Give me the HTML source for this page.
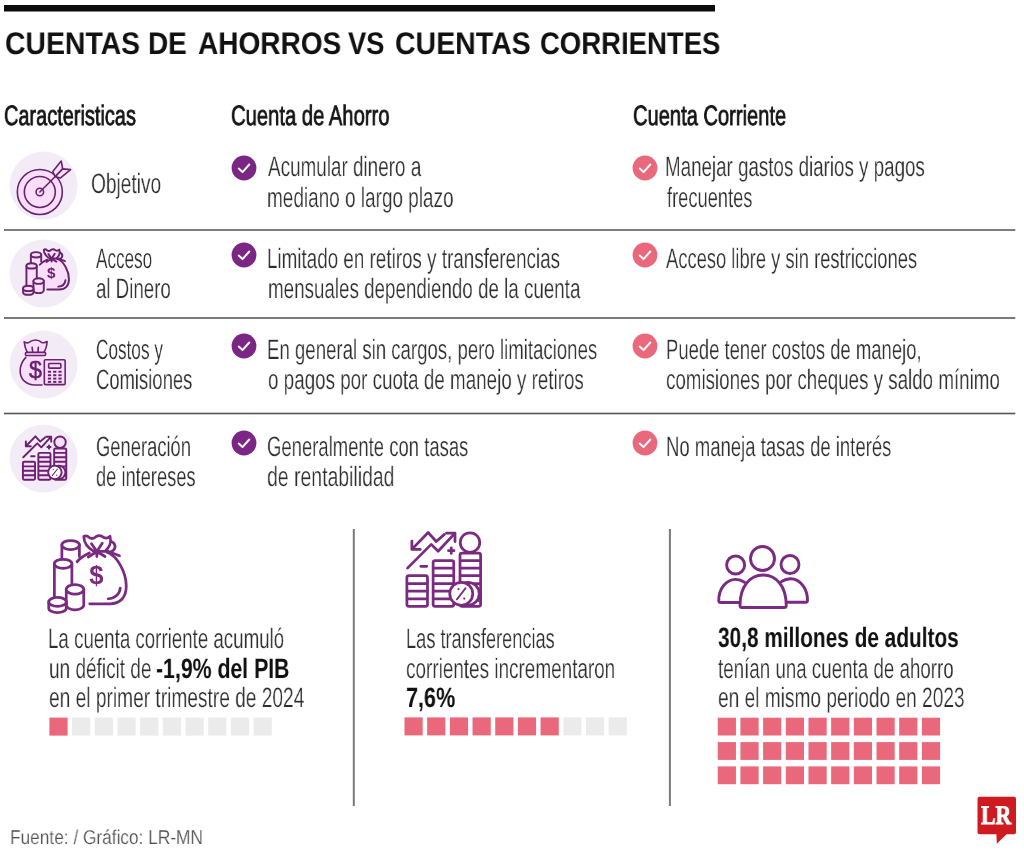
<!DOCTYPE html>
<html lang="es"><head><meta charset="utf-8"><title>Cuentas de ahorros vs cuentas corrientes</title>
<style>
html,body{margin:0;padding:0;background:#fff}
body{width:1024px;height:853px;position:relative;overflow:hidden;font-family:"Liberation Sans",sans-serif}
.a{position:absolute;display:block}
svg.a{will-change:transform}
.t{will-change:transform;position:absolute;display:block;white-space:nowrap;line-height:1;transform-origin:0 0;text-rendering:geometricPrecision;font-family:"Liberation Sans",sans-serif}
</style></head><body>

<svg class="a" style="left:0;top:0" width="1024" height="853" viewBox="0 0 1024 853"><rect x="4" y="5" width="711" height="6.5" fill="#0c0c0c"/>
<circle cx="43.6" cy="185.5" r="34" fill="#f3ecf6"/>
<circle cx="43.6" cy="273.5" r="34" fill="#f3ecf6"/>
<circle cx="43.6" cy="364.5" r="34" fill="#f3ecf6"/>
<circle cx="43.6" cy="458.5" r="34" fill="#f3ecf6"/>
<rect x="4" y="229" width="1011.3" height="2" fill="#7e7e7e"/>
<rect x="4" y="317" width="1011.3" height="2" fill="#7a7a7a"/>
<rect x="4" y="412.7" width="1011.3" height="1.6" fill="#555"/>
<rect x="352.8" y="529" width="2" height="277" fill="#7a7a7a"/>
<rect x="668.9" y="529" width="2" height="277" fill="#7a7a7a"/>
<rect x="49.40" y="717.60" width="18.2" height="18" fill="#e9687b"/>
<rect x="72.08" y="717.60" width="18.2" height="18" fill="#ebebeb"/>
<rect x="94.76" y="717.60" width="18.2" height="18" fill="#ebebeb"/>
<rect x="117.44" y="717.60" width="18.2" height="18" fill="#ebebeb"/>
<rect x="140.12" y="717.60" width="18.2" height="18" fill="#ebebeb"/>
<rect x="162.80" y="717.60" width="18.2" height="18" fill="#ebebeb"/>
<rect x="185.48" y="717.60" width="18.2" height="18" fill="#ebebeb"/>
<rect x="208.16" y="717.60" width="18.2" height="18" fill="#ebebeb"/>
<rect x="230.84" y="717.60" width="18.2" height="18" fill="#ebebeb"/>
<rect x="253.52" y="717.60" width="18.2" height="18" fill="#ebebeb"/>
<rect x="404.50" y="717.40" width="18.2" height="18" fill="#e9687b"/>
<rect x="427.18" y="717.40" width="18.2" height="18" fill="#e9687b"/>
<rect x="449.86" y="717.40" width="18.2" height="18" fill="#e9687b"/>
<rect x="472.54" y="717.40" width="18.2" height="18" fill="#e9687b"/>
<rect x="495.22" y="717.40" width="18.2" height="18" fill="#e9687b"/>
<rect x="517.90" y="717.40" width="18.2" height="18" fill="#e9687b"/>
<rect x="540.58" y="717.40" width="18.2" height="18" fill="#e9687b"/>
<rect x="563.26" y="717.40" width="18.2" height="18" fill="#ebebeb"/>
<rect x="585.94" y="717.40" width="18.2" height="18" fill="#ebebeb"/>
<rect x="608.62" y="717.40" width="18.2" height="18" fill="#ebebeb"/>
<rect x="717.75" y="717.70" width="18.2" height="17.8" fill="#e9687b"/>
<rect x="740.43" y="717.70" width="18.2" height="17.8" fill="#e9687b"/>
<rect x="763.11" y="717.70" width="18.2" height="17.8" fill="#e9687b"/>
<rect x="785.79" y="717.70" width="18.2" height="17.8" fill="#e9687b"/>
<rect x="808.47" y="717.70" width="18.2" height="17.8" fill="#e9687b"/>
<rect x="831.15" y="717.70" width="18.2" height="17.8" fill="#e9687b"/>
<rect x="853.83" y="717.70" width="18.2" height="17.8" fill="#e9687b"/>
<rect x="876.51" y="717.70" width="18.2" height="17.8" fill="#e9687b"/>
<rect x="899.19" y="717.70" width="18.2" height="17.8" fill="#e9687b"/>
<rect x="921.87" y="717.70" width="18.2" height="17.8" fill="#e9687b"/>
<rect x="717.75" y="742.10" width="18.2" height="17.8" fill="#e9687b"/>
<rect x="740.43" y="742.10" width="18.2" height="17.8" fill="#e9687b"/>
<rect x="763.11" y="742.10" width="18.2" height="17.8" fill="#e9687b"/>
<rect x="785.79" y="742.10" width="18.2" height="17.8" fill="#e9687b"/>
<rect x="808.47" y="742.10" width="18.2" height="17.8" fill="#e9687b"/>
<rect x="831.15" y="742.10" width="18.2" height="17.8" fill="#e9687b"/>
<rect x="853.83" y="742.10" width="18.2" height="17.8" fill="#e9687b"/>
<rect x="876.51" y="742.10" width="18.2" height="17.8" fill="#e9687b"/>
<rect x="899.19" y="742.10" width="18.2" height="17.8" fill="#e9687b"/>
<rect x="921.87" y="742.10" width="18.2" height="17.8" fill="#e9687b"/>
<rect x="717.75" y="766.40" width="18.2" height="17.8" fill="#e9687b"/>
<rect x="740.43" y="766.40" width="18.2" height="17.8" fill="#e9687b"/>
<rect x="763.11" y="766.40" width="18.2" height="17.8" fill="#e9687b"/>
<rect x="785.79" y="766.40" width="18.2" height="17.8" fill="#e9687b"/>
<rect x="808.47" y="766.40" width="18.2" height="17.8" fill="#e9687b"/>
<rect x="831.15" y="766.40" width="18.2" height="17.8" fill="#e9687b"/>
<rect x="853.83" y="766.40" width="18.2" height="17.8" fill="#e9687b"/>
<rect x="876.51" y="766.40" width="18.2" height="17.8" fill="#e9687b"/>
<rect x="899.19" y="766.40" width="18.2" height="17.8" fill="#e9687b"/>
<rect x="921.87" y="766.40" width="18.2" height="17.8" fill="#e9687b"/></svg>
<svg class="a" style="left:30px;top:520px" width="128" height="106" viewBox="0 0 1024 848">
<g fill="#fff" stroke="#7a2a80" stroke-width="22" stroke-linecap="round" stroke-linejoin="round">
  <path d="M255,200 L255,318 L395,300 L395,200 Z" stroke="none"/>
  <path d="M255,200 L255,312 M395,200 L395,292" fill="none"/>
  <ellipse cx="325" cy="200" rx="70" ry="36"/>
  <path d="M475,264 C430,285 400,305 376,334 L376,560 L475,670 L640,670 C720,670 770,620 770,530 C770,420 700,285 612,256 Z" stroke="none"/>
  <path d="M376,334 C400,305 430,285 475,264 M612,256 C700,285 770,420 770,530 C770,620 720,670 640,670 L478,670" fill="none"/>
  <path d="M722,545 C718,592 680,626 626,630" fill="none"/>
  <path d="M430,132 Q452,118 474,140 Q500,160 530,132 Q560,114 590,140 Q618,152 640,130 C655,180 630,225 600,250 L510,250 C465,225 432,190 430,132 Z"/>
  <path d="M650,172 C692,192 692,240 642,256" fill="none"/>
  <path d="M535,252 L492,190 M535,252 L578,186 M535,252 L535,292 M535,252 L466,296 M535,252 L600,292 M612,246 L716,286" fill="none"/>
  <path d="M195,350 L195,612 L335,612 L335,350 Z" stroke="none"/>
  <path d="M195,350 L195,612 M335,350 L335,520" fill="none"/>
  <ellipse cx="265" cy="350" rx="70" ry="36"/>
  <path d="M290,555 L290,680 A70,38 0 0 0 430,680 L430,555 Z"/>
  <ellipse cx="360" cy="555" rx="70" ry="38"/>
  <path d="M150,655 L150,705 A70,36 0 0 0 290,705 L290,655 Z"/>
  <ellipse cx="220" cy="655" rx="70" ry="36"/>
</g>
<text x="530" y="512" font-family="Liberation Sans, sans-serif" font-weight="bold" font-size="205" text-anchor="middle" fill="#7a2a80">$</text>
</svg>
<svg class="a" style="left:390px;top:520px" width="128" height="106" viewBox="0 0 1024 848">
<g fill="#fff" stroke="#7a2a80" stroke-width="22" stroke-linecap="round" stroke-linejoin="round">
  <rect x="135" y="445" width="165" height="245" rx="16"/>
  <path d="M135,508 L300,508 M135,568 L300,568 M135,630 L300,630 " fill="none" stroke-linecap="butt"/>
  <rect x="345" y="325" width="165" height="365" rx="16"/>
  <path d="M345,385 L510,385 M345,445 L510,445 M345,508 L510,508 M345,568 L510,568 M345,630 L510,630 " fill="none" stroke-linecap="butt"/>
  <rect x="560" y="265" width="165" height="425" rx="16"/>
  <path d="M560,325 L725,325 M560,385 L725,385 M560,445 L725,445 M560,508 L725,508 M560,568 L725,568 M560,630 L725,630 " fill="none" stroke-linecap="butt"/>
  <circle cx="640" cy="180" r="78"/>
  <circle cx="622" cy="590" r="92"/>
  <path d="M690,520 L705,512 M708,560 L722,556 M712,600 L726,602 M700,645 L714,652" fill="none" stroke-width="12"/>
  <circle cx="570" cy="590" r="92" fill="#fff"/>
  <path d="M140,385 L330,195 L385,250 L520,105 M452,105 L520,105 L520,172" fill="none"/>
  <path d="M175,235 L305,100 L370,172 L435,115 M175,168 L175,235 L242,235" fill="none"/>
  <path d="M468,245 L512,245 M490,223 L490,267 M246,370 L294,370" fill="none"/>
  <path d="M605,545 L535,635" fill="none" stroke-width="14"/>
  <circle cx="548" cy="552" r="9" fill="#7a2a80" stroke="none"/>
  <circle cx="594" cy="628" r="9" fill="#7a2a80" stroke="none"/>
</g>
</svg>
<svg class="a" style="left:700px;top:530px" width="128" height="106" viewBox="0 0 1024 848">
<g fill="none" stroke="#7a2a80" stroke-width="23" stroke-linecap="round" stroke-linejoin="round">
  <circle cx="500" cy="228" r="96"/>
  <circle cx="285" cy="280" r="72"/>
  <circle cx="720" cy="276" r="72"/>
  <path d="M320,603 Q320,620 337,620 L673,620 Q690,620 690,603 C690,450 610,360 505,360 C400,360 320,450 320,603 Z"/>
  <path d="M312,580 L167,580 Q150,580 150,563 C150,470 210,395 285,395 C312,395 336,404 356,418"/>
  <path d="M696,578 L845,578 Q860,578 860,561 C860,470 800,390 725,390 C698,390 672,399 652,412"/>
</g>
</svg>
<svg class="a" style="left:4px;top:146px" width="80" height="80" viewBox="0 0 853 853">
<g fill="#f8def9" stroke="#6a2270" stroke-width="17" stroke-linecap="round" stroke-linejoin="round">
  <circle cx="382" cy="490" r="240"/>
  <circle cx="382" cy="490" r="165"/>
  <circle cx="382" cy="490" r="40"/>
  <path d="M382,490 L560,312" fill="none"/>
  <path d="M520,272 L610,160 L626,244 L546,326 Z"/>
  <path d="M546,326 L626,244 L710,252 L600,342 Z"/>
</g>
</svg>
<svg class="a" style="left:11.57px;top:239.72px" width="75.74" height="62.73" viewBox="0 0 1024 848">
<g fill="#f8def9" stroke="#6a2270" stroke-width="26" stroke-linecap="round" stroke-linejoin="round">
  <path d="M255,200 L255,318 L395,300 L395,200 Z" stroke="none"/>
  <path d="M255,200 L255,312 M395,200 L395,292" fill="none"/>
  <ellipse cx="325" cy="200" rx="70" ry="36"/>
  <path d="M475,264 C430,285 400,305 376,334 L376,560 L475,670 L640,670 C720,670 770,620 770,530 C770,420 700,285 612,256 Z" stroke="none"/>
  <path d="M376,334 C400,305 430,285 475,264 M612,256 C700,285 770,420 770,530 C770,620 720,670 640,670 L478,670" fill="none"/>
  <path d="M722,545 C718,592 680,626 626,630" fill="none"/>
  <path d="M430,132 Q452,118 474,140 Q500,160 530,132 Q560,114 590,140 Q618,152 640,130 C655,180 630,225 600,250 L510,250 C465,225 432,190 430,132 Z"/>
  <path d="M650,172 C692,192 692,240 642,256" fill="none"/>
  <path d="M535,252 L492,190 M535,252 L578,186 M535,252 L535,292 M535,252 L466,296 M535,252 L600,292 M612,246 L716,286" fill="none"/>
  <path d="M195,350 L195,612 L335,612 L335,350 Z" stroke="none"/>
  <path d="M195,350 L195,612 M335,350 L335,520" fill="none"/>
  <ellipse cx="265" cy="350" rx="70" ry="36"/>
  <path d="M290,555 L290,680 A70,38 0 0 0 430,680 L430,555 Z"/>
  <ellipse cx="360" cy="555" rx="70" ry="38"/>
  <path d="M150,655 L150,705 A70,36 0 0 0 290,705 L290,655 Z"/>
  <ellipse cx="220" cy="655" rx="70" ry="36"/>
</g>
<text x="530" y="512" font-family="Liberation Sans, sans-serif" font-weight="bold" font-size="205" text-anchor="middle" fill="#6a2270">$</text>
</svg>
<svg class="a" style="left:4px;top:325px" width="80" height="80" viewBox="0 0 853 853">
<g fill="#f8def9" stroke="#6a2270" stroke-width="17" stroke-linecap="round" stroke-linejoin="round">
  <path d="M240,325 C200,370 172,420 172,490 C172,580 240,640 330,640 L430,640 L430,325 Z" stroke="none"/>
  <path d="M232,345 C195,385 172,430 172,490 C172,580 240,640 330,640 L405,640" fill="none"/>
  <path d="M215,180 Q240,197 265,186 Q300,160 337,160 Q372,160 402,186 Q432,197 460,176 C456,230 442,270 422,296 L250,296 C230,262 220,222 215,180 Z"/>
  <path d="M300,238 L306,290 M366,238 L362,290" fill="none"/>
  <rect x="228" y="292" width="216" height="34" rx="15"/>
  <rect x="430" y="370" width="222" height="266" rx="12"/>
  <rect x="476" y="410" width="130" height="50" rx="9"/>
  <rect x="468" y="488" width="34" height="21" fill="#6a2270" stroke="none"/><rect x="524" y="488" width="34" height="21" fill="#6a2270" stroke="none"/><rect x="580" y="488" width="34" height="21" fill="#6a2270" stroke="none"/><rect x="468" y="525" width="34" height="21" fill="#6a2270" stroke="none"/><rect x="524" y="525" width="34" height="21" fill="#6a2270" stroke="none"/><rect x="580" y="525" width="34" height="21" fill="#6a2270" stroke="none"/><rect x="468" y="561" width="34" height="21" fill="#6a2270" stroke="none"/><rect x="524" y="561" width="34" height="21" fill="#6a2270" stroke="none"/><rect x="580" y="561" width="34" height="21" fill="#6a2270" stroke="none"/><rect x="468" y="596" width="34" height="21" fill="#6a2270" stroke="none"/><rect x="524" y="596" width="34" height="21" fill="#6a2270" stroke="none"/><rect x="580" y="596" width="34" height="21" fill="#6a2270" stroke="none"/>
</g>
<text x="335" y="567" font-family="Liberation Sans, sans-serif" font-size="248" text-anchor="middle" fill="#6a2270" stroke="#6a2270" stroke-width="5">$</text>
</svg>
<svg class="a" style="left:12.75px;top:428.82px" width="75.26" height="62.33" viewBox="0 0 1024 848">
<g fill="#f8def9" stroke="#6a2270" stroke-width="26" stroke-linecap="round" stroke-linejoin="round">
  <rect x="135" y="445" width="165" height="245" rx="16"/>
  <path d="M135,508 L300,508 M135,568 L300,568 M135,630 L300,630 " fill="none" stroke-linecap="butt"/>
  <rect x="345" y="325" width="165" height="365" rx="16"/>
  <path d="M345,385 L510,385 M345,445 L510,445 M345,508 L510,508 M345,568 L510,568 M345,630 L510,630 " fill="none" stroke-linecap="butt"/>
  <rect x="560" y="265" width="165" height="425" rx="16"/>
  <path d="M560,325 L725,325 M560,385 L725,385 M560,445 L725,445 M560,508 L725,508 M560,568 L725,568 M560,630 L725,630 " fill="none" stroke-linecap="butt"/>
  <circle cx="640" cy="180" r="78"/>
  <circle cx="622" cy="590" r="92"/>
  <path d="M690,520 L705,512 M708,560 L722,556 M712,600 L726,602 M700,645 L714,652" fill="none" stroke-width="12"/>
  <circle cx="570" cy="590" r="92" fill="#fff"/>
  <path d="M140,385 L330,195 L385,250 L520,105 M452,105 L520,105 L520,172" fill="none"/>
  <path d="M175,235 L305,100 L370,172 L435,115 M175,168 L175,235 L242,235" fill="none"/>
  <path d="M468,245 L512,245 M490,223 L490,267 M246,370 L294,370" fill="none"/>
  <path d="M605,545 L535,635" fill="none" stroke-width="14"/>
  <circle cx="548" cy="552" r="9" fill="#6a2270" stroke="none"/>
  <circle cx="594" cy="628" r="9" fill="#6a2270" stroke="none"/>
</g>
</svg>
<svg class="a" style="left:231.00px;top:155.20px" width="26" height="26" viewBox="-13 -13 26 26"><circle r="12.4" fill="#7b2684"/><path d="M-5.3,0.6 L-1.5,4.1 L5.3,-3.5" fill="none" stroke="#fff" stroke-width="2" stroke-linecap="round" stroke-linejoin="round"/></svg>
<svg class="a" style="left:632.00px;top:155.20px" width="26" height="26" viewBox="-13 -13 26 26"><circle r="12.4" fill="#e9687b"/><path d="M-5.3,0.6 L-1.5,4.1 L5.3,-3.5" fill="none" stroke="#fff" stroke-width="2" stroke-linecap="round" stroke-linejoin="round"/></svg>
<svg class="a" style="left:231.00px;top:241.80px" width="26" height="26" viewBox="-13 -13 26 26"><circle r="12.4" fill="#7b2684"/><path d="M-5.3,0.6 L-1.5,4.1 L5.3,-3.5" fill="none" stroke="#fff" stroke-width="2" stroke-linecap="round" stroke-linejoin="round"/></svg>
<svg class="a" style="left:632.00px;top:241.80px" width="26" height="26" viewBox="-13 -13 26 26"><circle r="12.4" fill="#e9687b"/><path d="M-5.3,0.6 L-1.5,4.1 L5.3,-3.5" fill="none" stroke="#fff" stroke-width="2" stroke-linecap="round" stroke-linejoin="round"/></svg>
<svg class="a" style="left:231.00px;top:333.20px" width="26" height="26" viewBox="-13 -13 26 26"><circle r="12.4" fill="#7b2684"/><path d="M-5.3,0.6 L-1.5,4.1 L5.3,-3.5" fill="none" stroke="#fff" stroke-width="2" stroke-linecap="round" stroke-linejoin="round"/></svg>
<svg class="a" style="left:632.00px;top:333.20px" width="26" height="26" viewBox="-13 -13 26 26"><circle r="12.4" fill="#e9687b"/><path d="M-5.3,0.6 L-1.5,4.1 L5.3,-3.5" fill="none" stroke="#fff" stroke-width="2" stroke-linecap="round" stroke-linejoin="round"/></svg>
<svg class="a" style="left:231.00px;top:430.20px" width="26" height="26" viewBox="-13 -13 26 26"><circle r="12.4" fill="#7b2684"/><path d="M-5.3,0.6 L-1.5,4.1 L5.3,-3.5" fill="none" stroke="#fff" stroke-width="2" stroke-linecap="round" stroke-linejoin="round"/></svg>
<svg class="a" style="left:632.00px;top:430.20px" width="26" height="26" viewBox="-13 -13 26 26"><circle r="12.4" fill="#e9687b"/><path d="M-5.3,0.6 L-1.5,4.1 L5.3,-3.5" fill="none" stroke="#fff" stroke-width="2" stroke-linecap="round" stroke-linejoin="round"/></svg>

<svg class="a" style="left:976px;top:795px" width="42" height="52" viewBox="0 0 42 52">
<path d="M3.5,1.7 H38 Q40,1.7 40,3.7 V37.3 Q40,39.3 38,39.3 H30.6 L20.8,48.8 L20.4,39.3 H3.5 Q1.5,39.3 1.5,37.3 V3.7 Q1.5,1.7 3.5,1.7 Z" fill="#cf1b1f"/></svg>
<span class="t" style="left:4.59px;top:28.00px;font-size:31.3px;font-weight:bold;color:#111;transform:scaleX(0.9070)">CUENTAS</span>
<span class="t" style="left:148.21px;top:28.00px;font-size:31.3px;font-weight:bold;color:#111;transform:scaleX(0.8928)">DE</span>
<span class="t" style="left:197.50px;top:28.00px;font-size:31.3px;font-weight:bold;color:#111;transform:scaleX(0.8957)">AHORROS</span>
<span class="t" style="left:348.00px;top:28.00px;font-size:31.3px;font-weight:bold;color:#111;transform:scaleX(0.8746)">VS</span>
<span class="t" style="left:394.59px;top:28.00px;font-size:31.3px;font-weight:bold;color:#111;transform:scaleX(0.9111)">CUENTAS</span>
<span class="t" style="left:540.37px;top:28.00px;font-size:31.3px;font-weight:bold;color:#111;transform:scaleX(0.8792)">CORRIENTES</span>
<span class="t" style="left:4.29px;top:102.00px;font-size:28px;color:#161616;-webkit-text-stroke:0.85px #161616;transform:scaleX(0.7125)">Caracteristicas</span>
<span class="t" style="left:231.28px;top:102.00px;font-size:28px;color:#161616;-webkit-text-stroke:0.85px #161616;transform:scaleX(0.7222)">Cuenta de Ahorro</span>
<span class="t" style="left:632.78px;top:102.00px;font-size:28px;color:#161616;-webkit-text-stroke:0.85px #161616;transform:scaleX(0.7182)">Cuenta Corriente</span>
<span class="t" style="left:91.32px;top:170.00px;font-size:28px;color:#2e2e2e;-webkit-text-stroke:0.25px #fff;transform:scaleX(0.6822)">Objetivo</span>
<span class="t" style="left:268.00px;top:153.00px;font-size:28px;color:#2e2e2e;-webkit-text-stroke:0.25px #fff;transform:scaleX(0.6743)">Acumular dinero a</span>
<span class="t" style="left:267.32px;top:184.00px;font-size:28px;color:#2e2e2e;-webkit-text-stroke:0.25px #fff;transform:scaleX(0.6771)">mediano o largo plazo</span>
<span class="t" style="left:665.16px;top:153.00px;font-size:28px;color:#2e2e2e;-webkit-text-stroke:0.25px #fff;transform:scaleX(0.6703)">Manejar gastos diarios y pagos</span>
<span class="t" style="left:666.50px;top:184.00px;font-size:28px;color:#2e2e2e;-webkit-text-stroke:0.25px #fff;transform:scaleX(0.6532)">frecuentes</span>
<span class="t" style="left:96.25px;top:245.00px;font-size:28px;color:#2e2e2e;-webkit-text-stroke:0.25px #fff;transform:scaleX(0.6110)">Acceso</span>
<span class="t" style="left:95.58px;top:275.00px;font-size:28px;color:#2e2e2e;-webkit-text-stroke:0.25px #fff;transform:scaleX(0.6675)">al Dinero</span>
<span class="t" style="left:267.16px;top:245.00px;font-size:28px;color:#2e2e2e;-webkit-text-stroke:0.25px #fff;transform:scaleX(0.6724)">Limitado en retiros y transferencias</span>
<span class="t" style="left:267.83px;top:275.00px;font-size:28px;color:#2e2e2e;-webkit-text-stroke:0.25px #fff;transform:scaleX(0.6711)">mensuales dependiendo de la cuenta</span>
<span class="t" style="left:665.75px;top:245.00px;font-size:28px;color:#2e2e2e;-webkit-text-stroke:0.25px #fff;transform:scaleX(0.6560)">Acceso libre y sin restricciones</span>
<span class="t" style="left:95.64px;top:336.00px;font-size:28px;color:#2e2e2e;-webkit-text-stroke:0.25px #fff;transform:scaleX(0.6139)">Costos y</span>
<span class="t" style="left:95.59px;top:366.00px;font-size:28px;color:#2e2e2e;-webkit-text-stroke:0.25px #fff;transform:scaleX(0.6585)">Comisiones</span>
<span class="t" style="left:267.37px;top:336.00px;font-size:28px;color:#2e2e2e;-webkit-text-stroke:0.25px #fff;transform:scaleX(0.6651)">En general sin cargos, pero limitaciones</span>
<span class="t" style="left:268.03px;top:366.00px;font-size:28px;color:#2e2e2e;-webkit-text-stroke:0.25px #fff;transform:scaleX(0.6719)">o pagos por cuota de manejo y retiros</span>
<span class="t" style="left:666.38px;top:336.00px;font-size:28px;color:#2e2e2e;-webkit-text-stroke:0.25px #fff;transform:scaleX(0.6594)">Puede tener costos de manejo,</span>
<span class="t" style="left:666.23px;top:366.00px;font-size:28px;color:#2e2e2e;-webkit-text-stroke:0.25px #fff;transform:scaleX(0.6704)">comisiones por cheques y saldo mínimo</span>
<span class="t" style="left:95.59px;top:433.00px;font-size:28px;color:#2e2e2e;-webkit-text-stroke:0.25px #fff;transform:scaleX(0.6558)">Generación</span>
<span class="t" style="left:95.60px;top:463.00px;font-size:28px;color:#2e2e2e;-webkit-text-stroke:0.25px #fff;transform:scaleX(0.6527)">de intereses</span>
<span class="t" style="left:267.34px;top:433.00px;font-size:28px;color:#2e2e2e;-webkit-text-stroke:0.25px #fff;transform:scaleX(0.6599)">Generalmente con tasas</span>
<span class="t" style="left:267.31px;top:463.00px;font-size:28px;color:#2e2e2e;-webkit-text-stroke:0.25px #fff;transform:scaleX(0.6940)">de rentabilidad</span>
<span class="t" style="left:665.58px;top:433.00px;font-size:28px;color:#2e2e2e;-webkit-text-stroke:0.25px #fff;transform:scaleX(0.6612)">No maneja tasas de interés</span>
<span class="t" style="left:48.06px;top:625.00px;font-size:28px;color:#2e2e2e;-webkit-text-stroke:0.25px #fff;transform:scaleX(0.6683)">La cuenta corriente acumuló</span>
<span class="t" style="left:48.72px;top:655.00px;font-size:28px;color:#2e2e2e;-webkit-text-stroke:0.25px #fff;transform:scaleX(0.6786)">un déficit de</span>
<span class="t" style="left:156.44px;top:655.00px;font-size:28px;font-weight:bold;color:#111;transform:scaleX(0.7592)">-1,9% del PIB</span>
<span class="t" style="left:48.72px;top:684.00px;font-size:28px;color:#2e2e2e;-webkit-text-stroke:0.25px #fff;transform:scaleX(0.6837)">en el primer trimestre de 2024</span>
<span class="t" style="left:405.70px;top:625.00px;font-size:28px;color:#2e2e2e;-webkit-text-stroke:0.25px #fff;transform:scaleX(0.6500)">Las transferencias</span>
<span class="t" style="left:406.32px;top:655.00px;font-size:28px;color:#2e2e2e;-webkit-text-stroke:0.25px #fff;transform:scaleX(0.6756)">corrientes incrementaron</span>
<span class="t" style="left:406.23px;top:684.00px;font-size:28px;font-weight:bold;color:#111;transform:scaleX(0.7708)">7,6%</span>
<span class="t" style="left:718.30px;top:624.00px;font-size:28px;font-weight:bold;color:#111;transform:scaleX(0.7438)">30,8 millones de adultos</span>
<span class="t" style="left:718.30px;top:655.00px;font-size:28px;color:#2e2e2e;-webkit-text-stroke:0.25px #fff;transform:scaleX(0.6699)">tenían una cuenta de ahorro</span>
<span class="t" style="left:717.62px;top:684.00px;font-size:28px;color:#2e2e2e;-webkit-text-stroke:0.25px #fff;transform:scaleX(0.6828)">en el mismo periodo en 2023</span>
<span class="t" style="left:10.39px;top:828.00px;font-size:20px;color:#505050;-webkit-text-stroke:0.2px #fff;transform:scaleX(0.8633)">Fuente: / Gráfico: LR-MN</span>
<span class="t" style="left:981.20px;top:802.00px;font-size:27px;font-weight:bold;color:#fff;font-family:'Liberation Serif',serif;-webkit-text-stroke:0.9px #fff;transform:scaleX(0.8051)">LR</span>
</body></html>
